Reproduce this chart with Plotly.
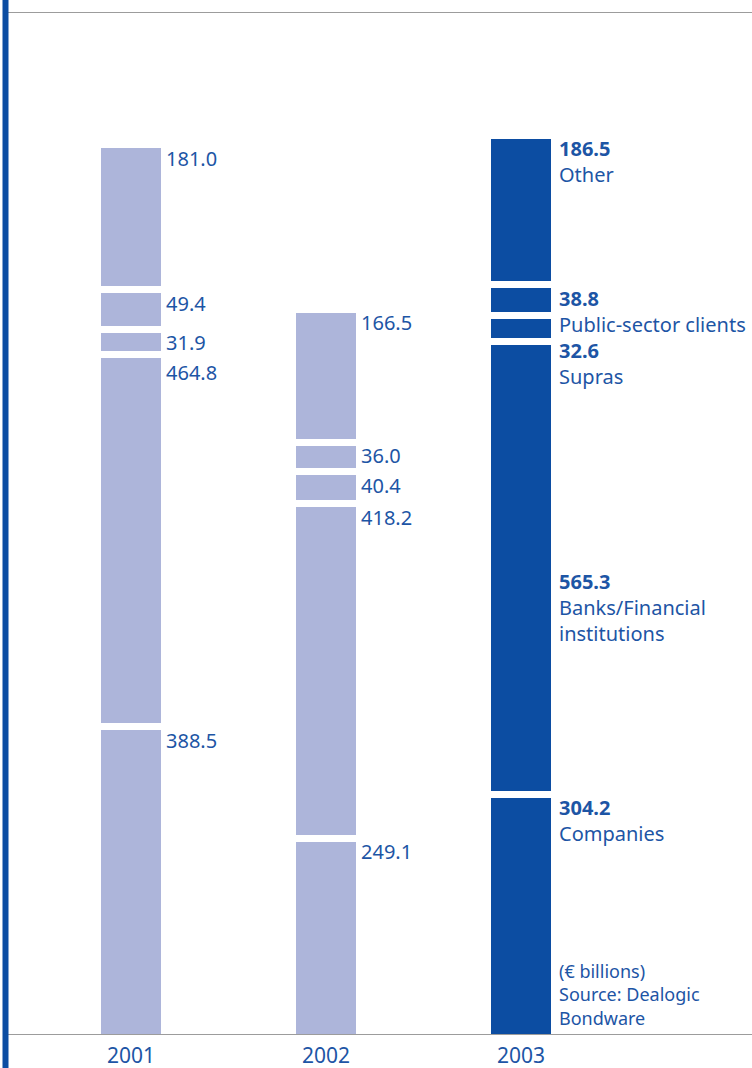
import plotly.graph_objects as go

# Bond issuance by issuer group, € billions
years = ["2001", "2002", "2003"]
segments = ["Companies", "Banks/Financial<br>institutions", "Supras", "Public-sector clients", "Other"]
companies = [388.5, 249.1, 304.2]
banks = [464.8, 418.2, 565.3]
supras = [31.9, 40.4, 32.6]
public_sector = [49.4, 36.0, 38.8]
other = [181.0, 166.5, 186.5]
series = [companies, banks, supras, public_sector, other]

light = "#adb5da"
dark = "#0c4da2"
text_col = "#1d55a5"
line_col = "#9c9c9c"
font = "Noto Sans"
bar_colors = [light, light, dark]
label_shift = [33, 33, 36]

plot_h = 1068 - 13 - 34
y0 = 4.4
y_span = 1276
px_per_unit = plot_h / y_span

fig = go.Figure()
for name, vals in zip(segments, series):
    fig.add_trace(go.Bar(
        x=years, y=vals, name=name, width=0.3436,
        marker=dict(color=bar_colors, line=dict(color="white", width=7)),
        hoverinfo="skip", showlegend=False,
    ))

# value labels beside each segment; the last year also names the segment.
# Labels sit at the segment top (the big banks segment of the last year gets
# its label at mid-height) and are pushed down so they never overlap.
annotations = []
for j, yr in enumerate(years):
    last = j == len(years) - 1
    min_gap = (52 if last else 30) / px_per_unit
    tops = []
    acc = 0.0
    for vals in series:
        tops.append((acc, acc + vals[j]))
        acc += vals[j]
    prev_y = None
    for k in reversed(range(len(series))):
        lo, hi = tops[k]
        name, vals = segments[k], series[k]
        y_lab = (lo + hi) / 2 if (last and k == 1) else hi
        if prev_y is not None:
            y_lab = min(y_lab, prev_y - min_gap)
        prev_y = y_lab
        txt = f"<b>{vals[j]:.1f}</b><br>{name}" if last else f"{vals[j]:.1f}"
        annotations.append(dict(
            x=j, y=y_lab, xref="x", yref="y", text=txt, showarrow=False,
            xanchor="left", yanchor="top", align="left",
            xshift=label_shift[j], yshift=2,
            font=dict(family=font, size=20, color=text_col),
        ))

annotations.append(dict(
    x=len(years) - 1, y=0, xref="x", yref="paper",
    text="(€ billions)<br>Source: Dealogic<br>Bondware", showarrow=False,
    xanchor="left", yanchor="bottom", align="left",
    xshift=36, yshift=2,
    font=dict(family=font, size=18, color=text_col),
))

fig.update_layout(
    barmode="stack",
    width=752, height=1068,
    margin=dict(l=8, r=0, t=13, b=34),
    paper_bgcolor="white", plot_bgcolor="white",
    annotations=annotations,
    shapes=[dict(type="rect", xref="paper", yref="paper",
                 x0=-5.5 / 744, x1=0.5 / 744, y0=-34 / plot_h, y1=1 + 13 / plot_h,
                 fillcolor=dark, line=dict(width=0), layer="above")],
    xaxis=dict(
        type="category", range=[-0.6308, 3.1846],
        showline=True, mirror=True, linecolor=line_col, linewidth=1,
        showgrid=False, zeroline=False, ticks="", ticklabelstandoff=3,
        tickfont=dict(family=font, size=21, color=text_col),
    ),
    yaxis=dict(visible=False, range=[y0, y0 + y_span], showgrid=False, zeroline=False),
)

fig.write_html("out.html")
